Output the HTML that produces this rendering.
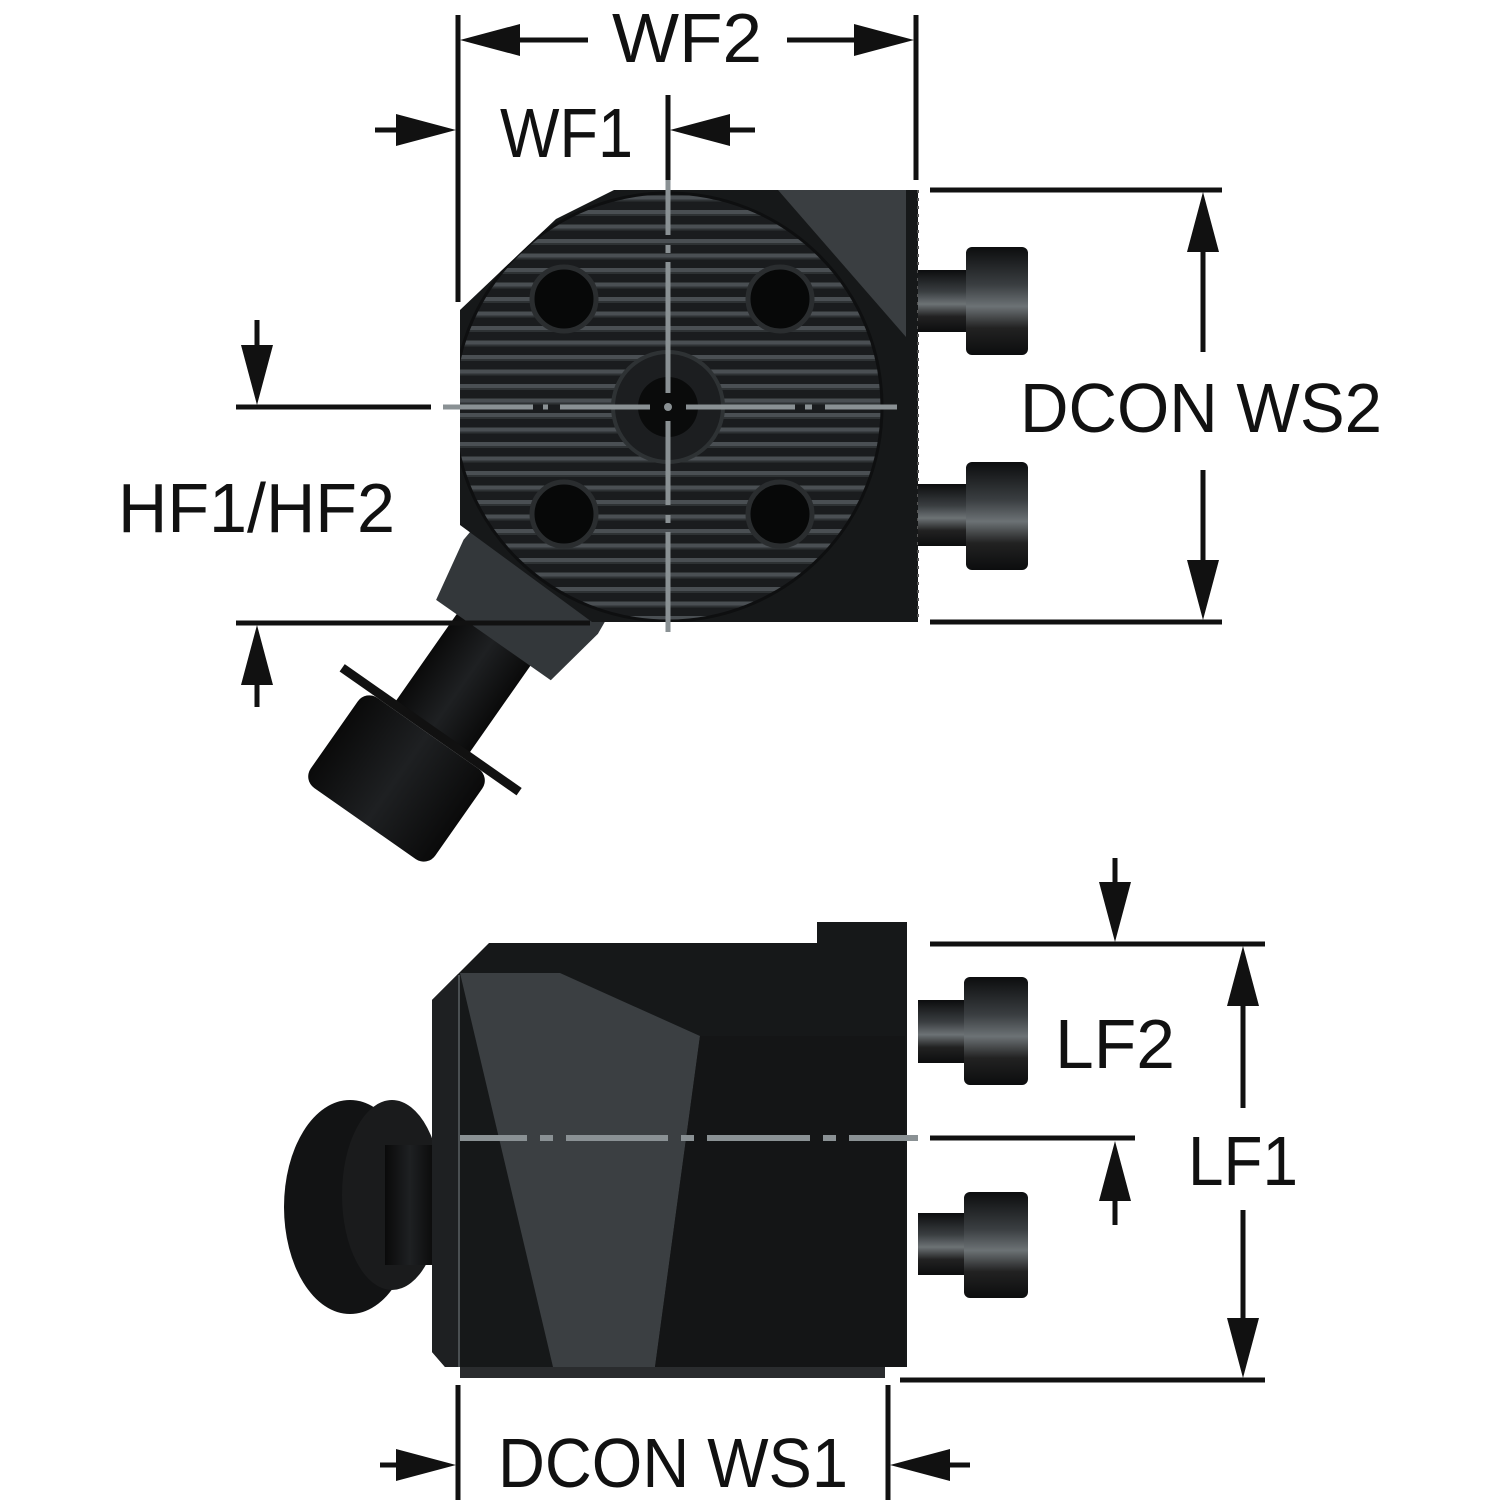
<!DOCTYPE html>
<html><head><meta charset="utf-8"><style>
html,body{margin:0;padding:0;background:#fff}
svg{display:block}
text{font-family:"Liberation Sans",sans-serif;fill:#111}
</style></head><body>
<svg width="1500" height="1500" viewBox="0 0 1500 1500" xmlns="http://www.w3.org/2000/svg">
<defs>
<clipPath id="bodyclip"><polygon points="614,190 906,190 906,622 592,622 460,525 460,310 556,219"/></clipPath>
<pattern id="grooves" width="20" height="14.5" patternUnits="userSpaceOnUse" y="2">
<rect width="20" height="14.5" fill="#1a1c1e"/>
<rect y="5" width="20" height="4" fill="#4a4f53"/>
<rect y="9" width="20" height="2" fill="#2e3234"/>
</pattern>
<linearGradient id="cyl" x1="0" y1="0" x2="0" y2="1">
<stop offset="0" stop-color="#0c0d0e"/><stop offset="0.35" stop-color="#3a3e41"/><stop offset="0.55" stop-color="#6c7275"/><stop offset="0.75" stop-color="#222"/><stop offset="1" stop-color="#0c0d0e"/>
</linearGradient>
<linearGradient id="cylh" x1="0" y1="0" x2="1" y2="0">
<stop offset="0" stop-color="#0a0a0a"/><stop offset="0.5" stop-color="#1e2022"/><stop offset="1" stop-color="#0a0a0a"/>
</linearGradient>
</defs>

<!-- ========== TOP VIEW ========== -->
<g transform="translate(525,595) rotate(35)">
<rect x="-45" y="40" width="90" height="125" fill="url(#cylh)"/>
<rect x="-108" y="160" width="216" height="9" fill="#111"/>
<rect x="-76" y="169" width="152" height="110" rx="14" fill="url(#cylh)"/>
<polygon points="-78,-55 78,-55 82,-10 70,55 -70,55 -82,-10" fill="#33373a"/>
</g>
<polygon points="614,190 906,190 906,622 592,622 460,525 460,310 556,219" fill="#161819"/>
<polygon points="778,190 906,190 906,337" fill="#3a3e41"/>
<g clip-path="url(#bodyclip)">
<circle cx="668" cy="407" r="214" fill="url(#grooves)"/>
<circle cx="668" cy="407" r="214" fill="none" stroke="#0e0f10" stroke-width="3"/>
</g>
<g fill="#070808" stroke="#2a2d2f" stroke-width="5">
<circle cx="564" cy="299" r="32"/><circle cx="780" cy="299" r="32"/>
<circle cx="564" cy="514" r="32"/><circle cx="780" cy="514" r="32"/>
</g>
<circle cx="668" cy="407" r="55" fill="#1c1e20" stroke="#2e3234" stroke-width="4"/>
<circle cx="668" cy="407" r="30" fill="#0a0b0b"/>
<rect x="906" y="190" width="12" height="432" fill="#161819"/>
<path d="M918 190 l0 432" stroke="#555" stroke-width="2" stroke-dasharray="3 5"/>
<rect x="918" y="270" width="52" height="62" fill="url(#cyl)"/>
<rect x="966" y="247" width="62" height="108" rx="6" fill="url(#cyl)"/>
<rect x="918" y="484" width="52" height="62" fill="url(#cyl)"/>
<rect x="966" y="462" width="62" height="108" rx="6" fill="url(#cyl)"/>
<g stroke="#8a9194" stroke-width="5" fill="none">
<path d="M443 407 H533 M543 407 H548 M560 407 H650 M686 407 H795 M805 407 H812 M825 407 H897"/>
<path d="M668 180 V235 M668 245 V253 M668 262 V393 M668 421 V505 M668 515 V523 M668 532 V632"/>
</g>
<circle cx="668" cy="407" r="4" fill="#8a9194"/>

<!-- ========== BOTTOM VIEW ========== -->
<ellipse cx="350" cy="1207" rx="66" ry="107" fill="#121314"/>
<ellipse cx="392" cy="1195" rx="50" ry="95" fill="#1a1b1c"/>
<rect x="385" y="1145" width="50" height="120" fill="url(#cylh)"/>
<polygon points="817,922 907,922 907,1367 885,1367 885,1378 460,1378 460,1367 445,1367 432,1352 432,1000 489,943 817,943" fill="#161819"/>
<polygon points="432,1000 458,974 458,1367 445,1367 432,1352" fill="#1e2022"/>
<line x1="459" y1="975" x2="459" y2="1367" stroke="#4a4f52" stroke-width="2"/>
<polygon points="460,973 560,973 700,1036 655,1367 553,1367" fill="#3b3f42"/>
<polygon points="700,1036 905,1036 905,1367 655,1367" fill="#141516"/>
<rect x="460" y="1367" width="425" height="11" fill="#2a2c2e"/>
<rect x="918" y="1000" width="50" height="63" fill="url(#cyl)"/>
<rect x="964" y="977" width="64" height="108" rx="6" fill="url(#cyl)"/>
<rect x="918" y="1213" width="50" height="62" fill="url(#cyl)"/>
<rect x="964" y="1192" width="64" height="106" rx="6" fill="url(#cyl)"/>
<g stroke="#8a9194" stroke-width="6">
<path d="M460 1138 H527 M540 1138 H553 M566 1138 H668 M681 1138 H694 M707 1138 H810 M823 1138 H836 M849 1138 H918"/>
</g>

<!-- ========== DIMENSIONS ========== -->
<g stroke="#111" stroke-width="5" fill="none">
<path d="M458 15 V302 M916 15 V180"/>
<path d="M515 40 H588 M787 40 H860"/>
<path d="M375 130 H405 M722 130 H755"/>
<path d="M668 95 V180"/>
<path d="M930 190 H1222 M930 622 H1222"/>
<path d="M1203 245 V352 M1203 470 V565"/>
<path d="M236 407 H431 M236 623 H590"/>
<path d="M257 320 V350 M257 680 V707"/>
<path d="M930 944 H1265 M900 1380 H1265"/>
<path d="M1243 1000 V1108 M1243 1210 V1322"/>
<path d="M1115 858 V885 M930 1138 H1135 M1115 1195 V1225"/>
<path d="M458 1385 V1500 M888 1385 V1500"/>
<path d="M380 1465 H405 M943 1465 H970"/>
</g>
<g fill="#111">
<polygon points="460,40 520,24 520,56"/>
<polygon points="914,40 854,24 854,56"/>
<polygon points="456,130 396,114 396,146"/>
<polygon points="670,130 730,114 730,146"/>
<polygon points="1203,192 1187,252 1219,252"/>
<polygon points="1203,620 1187,560 1219,560"/>
<polygon points="257,405 241,345 273,345"/>
<polygon points="257,625 241,685 273,685"/>
<polygon points="1243,946 1227,1006 1259,1006"/>
<polygon points="1243,1378 1227,1318 1259,1318"/>
<polygon points="1115,942 1099,882 1131,882"/>
<polygon points="1115,1141 1099,1201 1131,1201"/>
<polygon points="456,1465 396,1449 396,1481"/>
<polygon points="890,1465 950,1449 950,1481"/>
</g>

<g font-size="70">
<text x="612" y="62" textLength="150" lengthAdjust="spacingAndGlyphs">WF2</text>
<text x="500" y="157" textLength="133" lengthAdjust="spacingAndGlyphs">WF1</text>
<text x="1020" y="432" textLength="362" lengthAdjust="spacingAndGlyphs">DCON WS2</text>
<text x="118" y="532" textLength="277" lengthAdjust="spacingAndGlyphs">HF1/HF2</text>
<text x="1055" y="1068" textLength="120" lengthAdjust="spacingAndGlyphs">LF2</text>
<text x="1188" y="1185" textLength="110" lengthAdjust="spacingAndGlyphs">LF1</text>
<text x="498" y="1487" textLength="350" lengthAdjust="spacingAndGlyphs">DCON WS1</text>
</g>
</svg>
</body></html>
